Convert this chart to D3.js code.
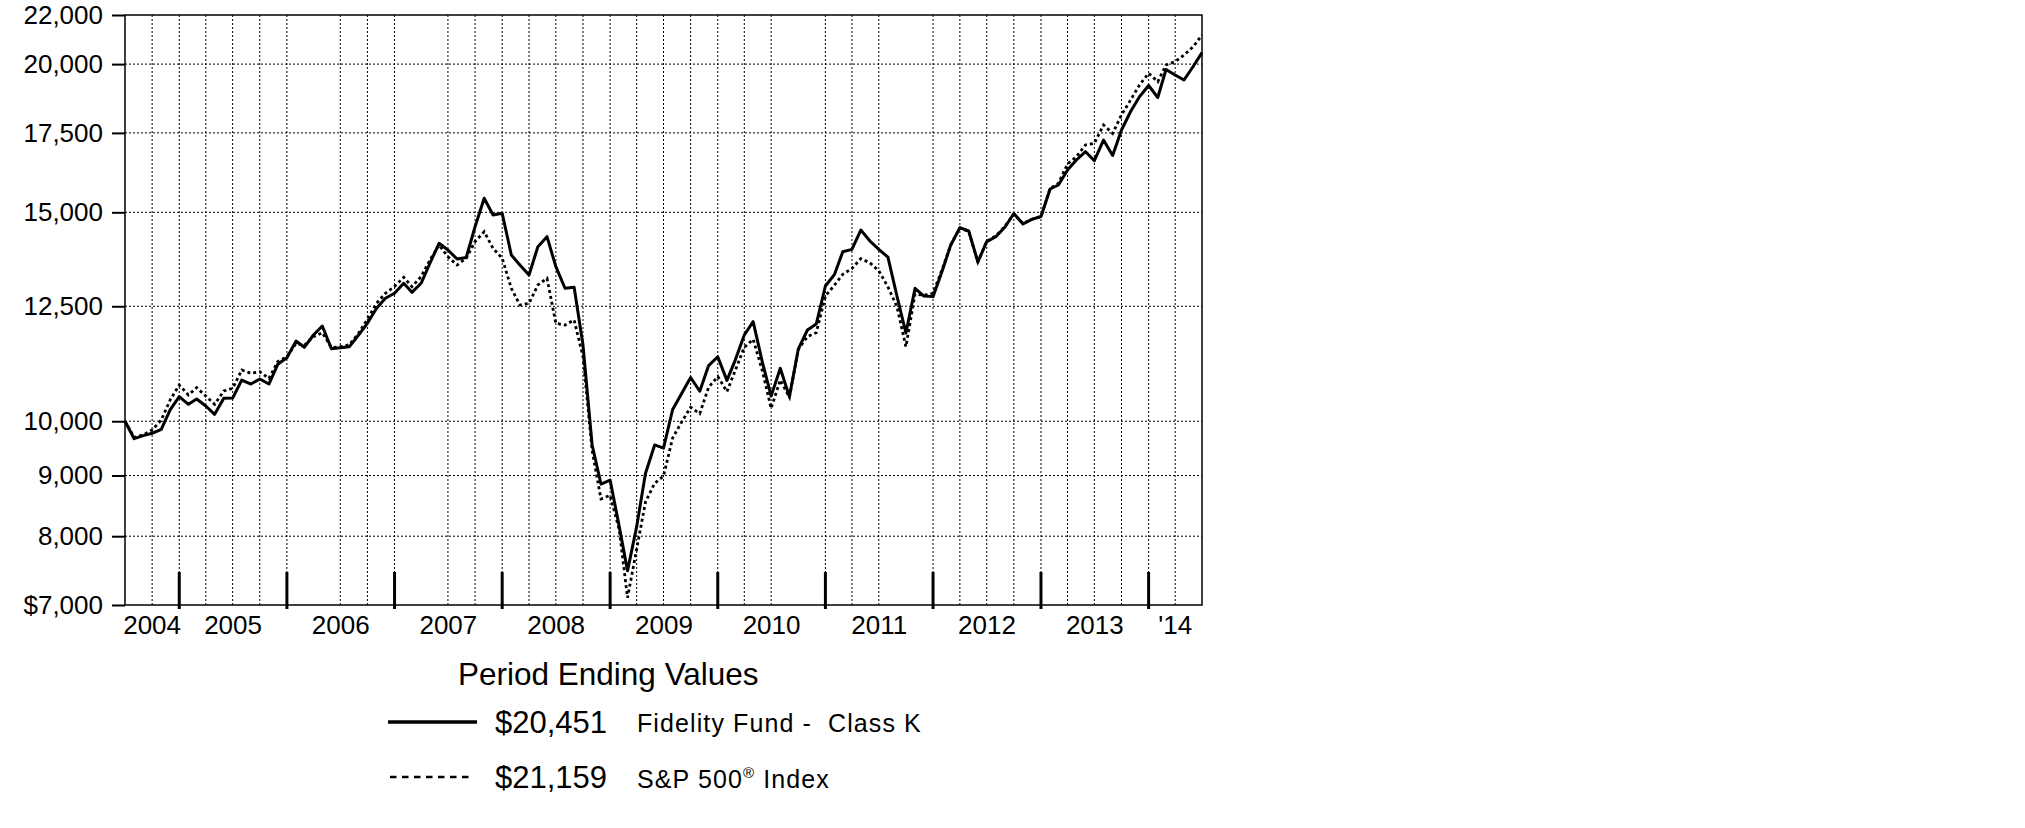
<!DOCTYPE html>
<html>
<head>
<meta charset="utf-8">
<script src="https://cdn.jsdelivr.net/npm/d3@7"></script>
<style>
  body { margin: 0; background: #fff; }
  svg { display: block; font-family: "Liberation Sans", Arial, sans-serif; }
</style>
</head>
<body>
<div id="graph"></div>
<script>
// hypothetical $10,000 investment, month ends Jun 2004 .. Jun 2014
var fundValues = [
  10000, 9667, 9725, 9768, 9845, 10221, 10488, 10334, 10441, 10300, 10135, 10455,
  10460, 10833, 10749, 10854, 10749, 11169, 11313, 11685, 11543, 11822, 12030, 11512,
  11535, 11557, 11822, 12093, 12451, 12695, 12819, 13070, 12843, 13070, 13588, 14125,
  13943, 13701, 13740, 14587, 15415, 14923, 14972, 13808, 13542, 13282, 14032, 14307,
  13498, 12944, 12970, 11594, 9549, 8853, 8922, 8150, 7480, 8150, 9040, 9550,
  9490, 10230, 10560, 10885, 10600, 11140, 11334, 10825, 11255, 11822, 12132, 11220,
  10500, 11082, 10488, 11500, 11937, 12077, 13002, 13299, 13897, 13960, 14494, 14188,
  13960, 13750, 12740, 11868, 12944, 12751, 12736, 13386, 14078, 14559, 14466, 13622,
  14169, 14307, 14578, 14966, 14664, 14798, 14879, 15694, 15817, 16284, 16603, 16873,
  16585, 17260, 16749, 17598, 18241, 18774, 19186, 18745, 19791, 19582, 19393, 19908,
  20451
];
var indexValues = [
  10000, 9690, 9740, 9832, 10024, 10420, 10728, 10523, 10673, 10500, 10334, 10604,
  10660, 11045, 10975, 11010, 10866, 11226, 11335, 11630, 11590, 11783, 11875, 11535,
  11557, 11600, 11861, 12190, 12572, 12819, 12990, 13223, 12984, 13240, 13675, 14078,
  13762, 13542, 13720, 14170, 14446, 13988, 13720, 12944, 12530, 12572, 13027, 13197,
  12093, 12051, 12170, 11334, 9450, 8600, 8660, 8100, 7100, 7800, 8550, 8865,
  8990, 9680, 9990, 10274, 10150, 10681, 10908, 10590, 11031, 11543, 11724, 11031,
  10254, 10833, 10476, 11498, 11783, 11875, 12750, 13027, 13300, 13450, 13710, 13600,
  13390, 12980, 12480, 11557, 12800, 12770, 12819, 13433, 14078, 14550, 14450, 13622,
  14180, 14330, 14600, 14950, 14680, 14800, 14880, 15715, 15868, 16475, 16710, 17095,
  17150, 17770, 17485, 18118, 18655, 19205, 19647, 19329, 19965, 20094, 20357, 20687,
  21159
];

var yTicks = [7000, 8000, 9000, 10000, 12500, 15000, 17500, 20000, 22000];
var yearLabels = ["2004", "2005", "2006", "2007", "2008", "2009", "2010", "2011", "2012", "2013", "'14"];
var skippedGrid = ["2006-04", "2007-04", "2010-10", "2011-10"];  // quarter lines not drawn in the original
var endingValues = ["$20,451", "$21,159"];
var seriesNames = ["Fidelity Fund -  Class K", "S&P 500"];

var w = 2025, h = 828;
var plotLeft = 125, plotRight = 1202, plotTop = 15, plotBottom = 605;

var start = new Date(2004, 6, 1), end = new Date(2014, 6, 1);
var dates = fundValues.map(function(d, i) { return new Date(2004, 6 + i, 1); });

var xScale = d3.scaleTime().domain([start, end]).range([plotLeft, plotRight]);
var yScale = d3.scaleLog().domain([7000, 22000]).range([plotBottom, plotTop]);

var svg = d3.select("#graph").append("svg")
    .attr("width", w)
    .attr("height", h);

// vertical grid, every quarter
var fmtKey = d3.timeFormat("%Y-%m");
var gridDates = d3.timeMonth.every(3).range(d3.timeMonth.offset(start, 1), end)
    .filter(function(d) { return skippedGrid.indexOf(fmtKey(d)) < 0; });

svg.append("g").selectAll("line")
    .data(gridDates)
    .enter().append("line")
    .attr("x1", function(d) { return xScale(d); })
    .attr("x2", function(d) { return xScale(d); })
    .attr("y1", plotTop)
    .attr("y2", plotBottom)
    .attr("stroke", "#000")
    .attr("stroke-width", 1)
    .attr("stroke-dasharray", "2,2");

// horizontal grid
svg.append("g").selectAll("line")
    .data(yTicks.slice(1, -1))
    .enter().append("line")
    .attr("x1", plotLeft)
    .attr("x2", plotRight)
    .attr("y1", function(d) { return yScale(d); })
    .attr("y2", function(d) { return yScale(d); })
    .attr("stroke", "#000")
    .attr("stroke-width", 1)
    .attr("stroke-dasharray", "2,2");

// y axis
var yAxis = d3.axisLeft(yScale)
    .tickValues(yTicks)
    .tickSize(13)
    .tickPadding(9)
    .tickFormat(function(d, i) { return (i === 0 ? "$" : "") + d3.format(",")(d); });

var gy = svg.append("g")
    .attr("transform", "translate(" + plotLeft + ",0)")
    .call(yAxis);
gy.select(".domain").remove();
gy.selectAll(".tick line").attr("stroke", "#000").attr("stroke-width", 2);
gy.selectAll(".tick text")
    .attr("fill", "#000")
    .style("font-family", "'Liberation Sans', Arial, sans-serif")
    .style("font-size", "26px");

// frame
svg.append("rect")
    .attr("x", plotLeft)
    .attr("y", plotTop)
    .attr("width", plotRight - plotLeft)
    .attr("height", plotBottom - plotTop)
    .attr("fill", "none")
    .attr("stroke", "#000")
    .attr("stroke-width", 1.5);

// year ticks
var yearStarts = d3.timeYear.range(new Date(2005, 0, 1), end);
svg.append("g").selectAll("line")
    .data(yearStarts)
    .enter().append("line")
    .attr("x1", function(d) { return xScale(d); })
    .attr("x2", function(d) { return xScale(d); })
    .attr("y1", plotBottom - 33)
    .attr("y2", plotBottom + 4)
    .attr("stroke", "#000")
    .attr("stroke-width", 3);

// year labels, centred on each calendar year inside the domain
svg.append("g").selectAll("text")
    .data(yearLabels)
    .enter().append("text")
    .attr("x", function(d, i) {
      var a = new Date(2004 + i, 0, 1), b = new Date(2005 + i, 0, 1);
      if (a < start) a = start;
      if (b > end) b = end;
      return (xScale(a) + xScale(b)) / 2;
    })
    .attr("y", 634)
    .attr("text-anchor", "middle")
    .attr("font-size", "26px")
    .text(function(d) { return d; });

// series
var line = d3.line()
    .x(function(d, i) { return xScale(dates[i]); })
    .y(function(d) { return yScale(d); });

svg.append("path")
    .datum(indexValues)
    .attr("d", line)
    .attr("fill", "none")
    .attr("stroke", "#000")
    .attr("stroke-width", 2.8)
    .attr("stroke-dasharray", "3,3");

svg.append("path")
    .datum(fundValues)
    .attr("d", line)
    .attr("fill", "none")
    .attr("stroke", "#000")
    .attr("stroke-width", 3)
    .attr("stroke-linejoin", "round");

// legend
svg.append("text")
    .attr("x", 458)
    .attr("y", 685)
    .attr("font-size", "31.5px")
    .text("Period Ending Values");

var rows = [722, 777];
svg.append("line")
    .attr("x1", 388).attr("x2", 477)
    .attr("y1", rows[0]).attr("y2", rows[0])
    .attr("stroke", "#000").attr("stroke-width", 3.5);
svg.append("line")
    .attr("x1", 390).attr("x2", 469)
    .attr("y1", rows[1]).attr("y2", rows[1])
    .attr("stroke", "#000").attr("stroke-width", 2.5)
    .attr("stroke-dasharray", "6.5,5.5");

endingValues.forEach(function(v, i) {
  svg.append("text")
      .attr("x", 495)
      .attr("y", rows[i] + 11)
      .attr("font-size", "31px")
      .text(v);
});

svg.append("text")
    .attr("x", 637)
    .attr("y", rows[0] + 10)
    .attr("font-size", "25px")
    .attr("letter-spacing", "1.1px")
    .style("white-space", "pre")
    .text(seriesNames[0]);

var t2 = svg.append("text")
    .attr("x", 637)
    .attr("y", rows[1] + 11)
    .attr("font-size", "25px")
    .attr("letter-spacing", "1.1px")
    .style("white-space", "pre");
t2.append("tspan").text(seriesNames[1]);
t2.append("tspan").attr("font-size", "15px").attr("dy", -10).text("\u00AE");
t2.append("tspan").attr("dy", 10).text(" Index");
</script>
</body>
</html>
